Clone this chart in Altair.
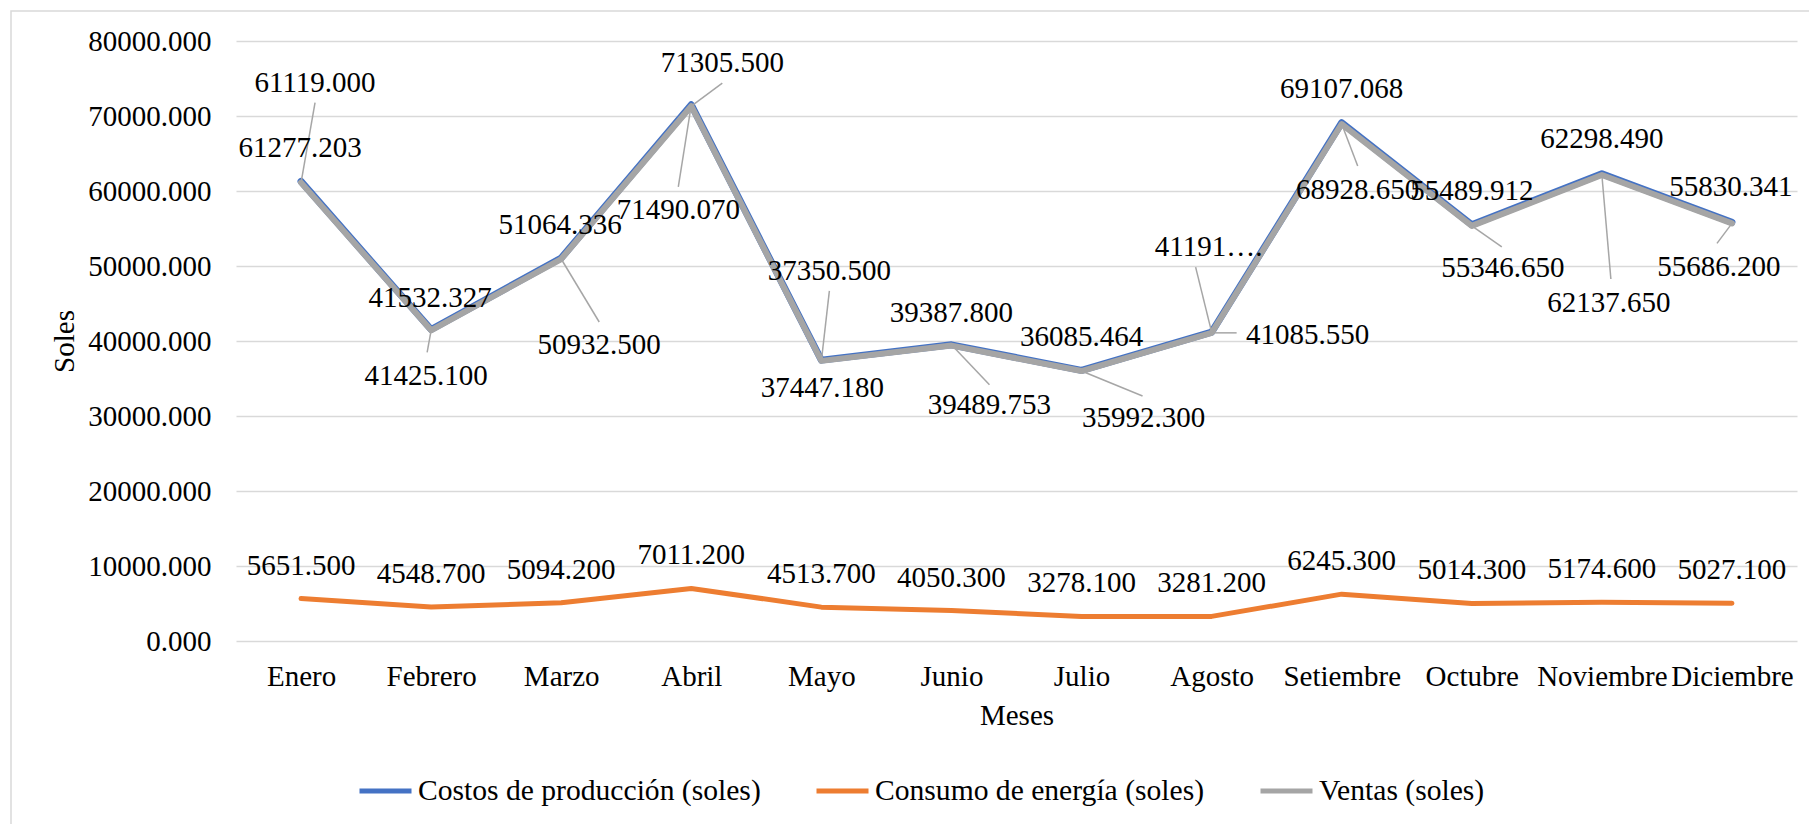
import altair as alt
import pandas as pd

# ---- data -------------------------------------------------------------
months = ["Enero", "Febrero", "Marzo", "Abril", "Mayo", "Junio", "Julio",
          "Agosto", "Setiembre", "Octubre", "Noviembre", "Diciembre"]

costos = [61277.203, 41532.327, 51064.336, 71490.070, 37447.180, 39489.753,
          36085.464, 41191.400, 69107.068, 55489.912, 62298.490, 55830.341]
energia = [5651.5, 4548.7, 5094.2, 7011.2, 4513.7, 4050.3,
           3278.1, 3281.2, 6245.3, 5014.3, 5174.6, 5027.1]
ventas = [61119.000, 41425.100, 50932.500, 71305.500, 37350.500, 39387.800,
          35992.300, 41085.550, 68928.650, 55346.650, 62137.650, 55686.200]

y_ticks = [0, 10000, 20000, 30000, 40000, 50000, 60000, 70000, 80000]

series_names = ["Costos de producción (soles)", "Consumo de energía (soles)", "Ventas (soles)"]
series_colors = ["#4472C4", "#ED7D31", "#A5A5A5"]

# ---- layout -------------------------------------------------------------
W, H = 1561, 600
Y_MAX = 80000
PX_PER_IDX = W / 12
PX_PER_UNIT = H / Y_MAX
FONT = "Liberation Serif"
FS = 29

# data-label placement (pixel offsets from each point)
costos_dx = [-1, -1, -1, -13, 1, 38, 0, -3, 0, 0, 0, -1]
costos_dy = [-33, -32, -33, 105, 28, 60, -33, -85, -34, -34, -35, -35]
ventas_dx = [14, -5, 38, 31, 8, 0, 62, 96, 16, 31, 7, -13]
ventas_dy = [-100, 46, 86, -43, -90, -33, 47, 2, 66, 42, 128, 44]
energia_dy = -33

# leader lines: end point offsets (pixels) from the data point
costos_leaders = {3: (-13, 82), 5: (38, 40), 7: (-16, -65)}
ventas_leaders = {0: (14, -80), 1: (-4, 22), 2: (38, 63), 3: (31, -23), 4: (8, -70),
                  6: (61, 25), 7: (25, 0), 8: (16, 42), 9: (30, 21),
                  10: (9, 104), 11: (-15, 20)}

# ---- tables -------------------------------------------------------------
rows = []
for name, vals in zip(series_names, [costos, energia, ventas]):
    for i, v in enumerate(vals):
        rows.append({"idx": i, "value": v, "series": name})
lines_df = pd.DataFrame(rows)


def fmt(v):
    return f"{v:.3f}"


labels = []
for i, v in enumerate(costos):
    text = fmt(v) if i != 7 else fmt(v)[:5] + "…."
    labels.append({"lx": i + costos_dx[i] / PX_PER_IDX,
                   "ly": v - costos_dy[i] / PX_PER_UNIT, "text": text})
for i, v in enumerate(ventas):
    labels.append({"lx": i + ventas_dx[i] / PX_PER_IDX,
                   "ly": v - ventas_dy[i] / PX_PER_UNIT, "text": fmt(v)})
for i, v in enumerate(energia):
    labels.append({"lx": i, "ly": v - energia_dy / PX_PER_UNIT, "text": fmt(v)})
labels_df = pd.DataFrame(labels)

leaders = []
for vals, table in [(costos, costos_leaders), (ventas, ventas_leaders)]:
    for i, (ex, ey) in table.items():
        leaders.append({"x": i, "y": vals[i],
                        "x2": i + ex / PX_PER_IDX, "y2": vals[i] - ey / PX_PER_UNIT})
leaders_df = pd.DataFrame(leaders)

# ---- encodings ----------------------------------------------------------
x_scale = alt.Scale(domain=[-0.5, 11.5], nice=False, zero=False)
y_scale = alt.Scale(domain=[0, Y_MAX], nice=False)

label_expr = "[" + ",".join(f"'{m}'" for m in months) + "][datum.value]"

x_enc = alt.X("idx:Q", scale=x_scale, title="Meses",
              axis=alt.Axis(values=list(range(12)), labelExpr=label_expr, grid=False,
                            domain=False, ticks=False, tickSize=0, labelPadding=44,
                            labelBaseline="alphabetic", labelFontSize=FS, labelFont=FONT,
                            labelColor="#000000", labelAngle=0,
                            titleFontSize=FS, titleFont=FONT, titleFontWeight="normal",
                            titleColor="#000000", titleBaseline="alphabetic", titleY=83))
y_enc = alt.Y("value:Q", scale=y_scale, title="Soles",
              axis=alt.Axis(values=y_ticks, format=".3f", grid=True, gridColor="#d9d9d9",
                            gridWidth=1.5, domain=False, ticks=False, tickSize=0,
                            labelPadding=25, labelFontSize=FS, labelFont=FONT,
                            labelColor="#000000",
                            titleFontSize=FS, titleFont=FONT, titleFontWeight="normal",
                            titleColor="#000000", titleAngle=-90, titleAlign="center",
                            titleBaseline="alphabetic", titleX=-163, titleY=300))

color_enc = alt.Color("series:N",
                      scale=alt.Scale(domain=series_names, range=series_colors),
                      legend=alt.Legend(title=None, orient="none", direction="horizontal",
                                        legendX=121, legendY=721, symbolType="stroke",
                                        symbolSize=2704, symbolStrokeWidth=5,
                                        labelFontSize=29.6, labelFont=FONT, labelLimit=2000,
                                        labelColor="#000000", labelOffset=4,
                                        columnPadding=45, padding=0, symbolOffset=0))

base = alt.Chart(lines_df)


def series_line(name, width):
    return base.transform_filter(alt.datum.series == name).mark_line(
        strokeWidth=width, strokeCap="round", strokeJoin="round"
    ).encode(x=x_enc, y=y_enc, color=color_enc)


# the cost line sits under the sales line and shows as a thin edge along it
costos_line = series_line(series_names[0], 7)
energia_line = series_line(series_names[1], 5)
ventas_line = series_line(series_names[2], 6)

leader_rules = alt.Chart(leaders_df).mark_rule(color="#a6a6a6", strokeWidth=1.5).encode(
    x=alt.X("x:Q", scale=x_scale), y=alt.Y("y:Q", scale=y_scale),
    x2="x2:Q", y2="y2:Q")

label_text = alt.Chart(labels_df).mark_text(
    font=FONT, fontSize=FS, color="#000000", align="center", baseline="middle"
).encode(x=alt.X("lx:Q", scale=x_scale), y=alt.Y("ly:Q", scale=y_scale), text="text:N")

frame = alt.Chart(pd.DataFrame({"k": [0]})).mark_rect(
    fill="transparent", stroke="#d9d9d9", strokeWidth=1.5
).encode(x=alt.value(-225), x2=alt.value(1580), y=alt.value(-30), y2=alt.value(800))

chart = alt.layer(
    frame, costos_line, energia_line, ventas_line, leader_rules, label_text
).properties(
    width=W, height=H,
    autosize=alt.AutoSizeParams(type="none"),
    padding={"left": 236, "top": 41, "right": 12, "bottom": 183},
    background="#ffffff",
).configure_view(strokeWidth=0)

chart.save("out.html", embed_options={"renderer": "svg", "actions": False})
